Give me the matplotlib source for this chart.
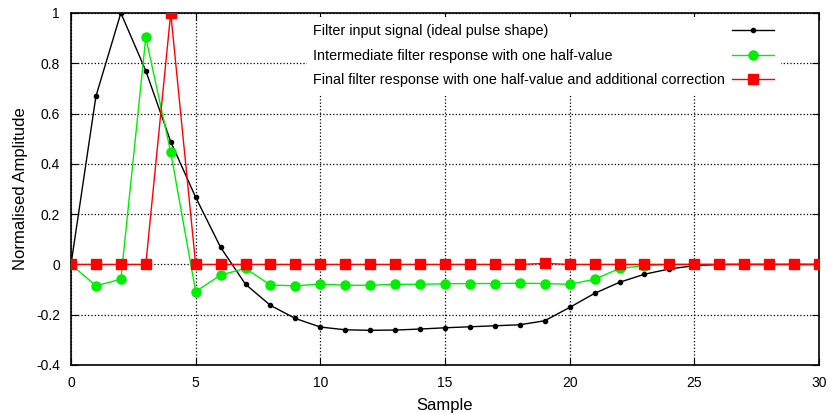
import numpy as np
import matplotlib
matplotlib.use("Agg")
import matplotlib.pyplot as plt
from matplotlib.ticker import FormatStrFormatter

plt.rcParams['font.family'] = ['Liberation Sans', 'DejaVu Sans']
plt.rcParams['axes.unicode_minus'] = False

# sample index
samples = list(range(31))

# filter input signal (ideal pulse shape)
pulse = [0, 0.669, 1.0, 0.77, 0.488, 0.267, 0.068, -0.079, -0.163, -0.215,
         -0.249, -0.26, -0.262, -0.261, -0.257, -0.252, -0.248, -0.244, -0.24, -0.224,
         -0.171, -0.115, -0.071, -0.039, -0.018, -0.005, 0.0, 0.0, 0.0, 0.0, 0.0]

# intermediate response with one half-value
intermediate = [0, -0.085, -0.059, 0.903, 0.446, -0.108, -0.042, -0.016, -0.082, -0.085,
                -0.078, -0.083, -0.083, -0.079, -0.079, -0.077, -0.076, -0.076, -0.075, -0.076,
                -0.079, -0.059, -0.016, -0.005, 0.0, 0.0, 0.0, 0.0, 0.0, 0.0, 0.0]

# final response with half-value and additional correction
final = [0, 0, 0, 0, 1.0, 0, 0, 0, 0, 0,
         0, 0, 0, 0, 0, 0, 0, 0, 0, 0.004,
         0, 0, 0, 0, 0, 0, 0, 0, 0, 0, 0]

labels = ['Filter input signal (ideal pulse shape)',
          'Intermediate filter response with one half-value',
          'Final filter response with one half-value and additional correction']

fig = plt.figure(figsize=(8.31, 4.13), dpi=100)
ax = fig.add_axes([71/831, 1-365/413, (819-71)/831, (365-13)/413])

ax.plot(samples, pulse, color='black', lw=1, marker='o', ms=3, label=labels[0], zorder=3)
ax.plot(samples, intermediate, color='#00ee00', lw=1, marker='o', ms=6.5, label=labels[1], zorder=4)
ax.plot(samples, final, color='#ff0000', lw=1, marker='s', ms=6.5, label=labels[2], zorder=5)

ax.set_xlim(0, 30)
ax.set_ylim(-0.4, 1)
ax.set_xticks(range(0, 31, 5))
ax.set_yticks(np.arange(-0.4, 1.01, 0.2))
ax.yaxis.set_major_formatter(FormatStrFormatter('%g'))
ax.tick_params(direction='in', top=True, right=True, length=5, labelsize=10, pad=8)
ax.grid(True, color='black', linestyle=':', lw=0.9)
for s in ax.spines.values():
    s.set_linewidth(1.2)

ax.set_xlabel('Sample', fontsize=12, labelpad=6)
ax.set_ylabel('Normalised Amplitude', fontsize=12, labelpad=6)

leg = ax.legend(loc='upper right', bbox_to_anchor=(0.949, 0.988), markerfirst=False,
                fontsize=10.4, handlelength=2.9, handletextpad=0.5, frameon=True,
                fancybox=False, borderaxespad=0, borderpad=0.45, labelspacing=0.75)
leg.get_frame().set_facecolor('white')
leg.get_frame().set_edgecolor('none')
leg.get_frame().set_alpha(1)
leg.set_zorder(10)

# gnuplot style: labels left-aligned, samples on the right
fig.canvas.draw()
renderer = fig.canvas.get_renderer()
widths = [t.get_window_extent(renderer).width for t in leg.get_texts()]
maxw = max(widths)
col = leg._legend_handle_box.get_children()[0]
for row, w in zip(col.get_children(), widths):
    row.sep += (maxw - w) * 72 / fig.dpi

fig.savefig('out.png', dpi=100)
